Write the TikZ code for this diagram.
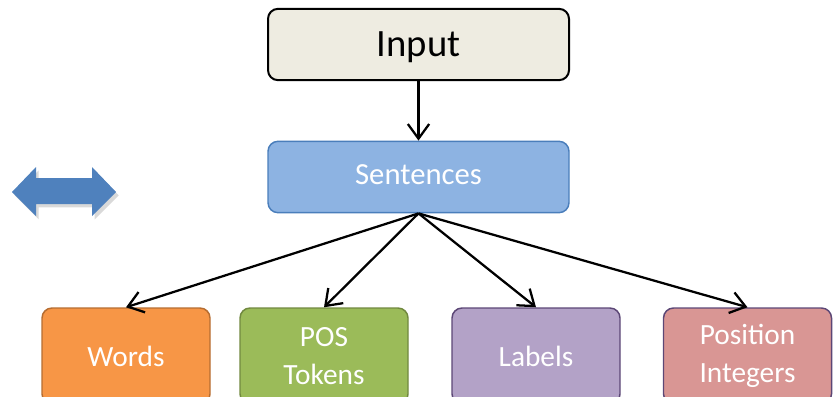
\documentclass[tikz,border=0pt]{standalone}
\usepackage{fontspec}
\setmainfont{Carlito}
\usetikzlibrary{arrows.meta,shadows}

\definecolor{inputfill}{HTML}{EEECE1}
\definecolor{sentfill}{HTML}{8DB3E2}
\definecolor{sentdraw}{HTML}{4A7EBB}
\definecolor{wordsfill}{HTML}{F79646}
\definecolor{wordsdraw}{HTML}{B66D31}
\definecolor{posfill}{HTML}{9BBB59}
\definecolor{posdraw}{HTML}{71893F}
\definecolor{labelsfill}{HTML}{B3A2C7}
\definecolor{labelsdraw}{HTML}{5C4776}
\definecolor{intfill}{HTML}{D99694}
\definecolor{arrowblue}{HTML}{4F81BD}

\begin{document}
\begin{tikzpicture}[x=0.75pt, y=-0.75pt,
    box/.style = {draw, rounded corners=7.5pt, line width=1.1pt, align=center, text=white,
                  minimum width=126pt, minimum height=72pt, font=\fontsize{22}{28.5}\selectfont},
    top/.style = {box, minimum width=225.75pt, minimum height=53.5pt},
    link/.style = {-{Straight Barb[length=11pt,width=16pt]}, line width=1.7pt}]

    \useasboundingbox (0,0) rectangle (837,396);
    \clip (0,0) rectangle (837,396);

    \node [top, fill=inputfill, line width=1.5pt, text=black, text depth=0pt,
           font=\fontsize{29}{34}\selectfont] (input) at (418.5,44.5) {Input};
    \node [top, fill=sentfill, draw=sentdraw, text height=1.2em,
           font=\fontsize{23}{28}\selectfont] (sent) at (418.5,177) {Sentences};

    \node [box, fill=wordsfill, draw=wordsdraw] (words) at (126,356) {Words};
    \node [box, fill=posfill, draw=posdraw] (pos) at (324,356) {POS\\Tokens};
    \node [box, fill=labelsfill, draw=labelsdraw] (labels) at (536,356) {Labels};
    \node [box, fill=intfill, draw=labelsdraw] (ints) at (747.5,356) {Position\\Integers};

    \draw[link] (input) to (sent);
    \draw[link] (sent.south) to (words.north);
    \draw[link] (sent.south) to (pos.north);
    \draw[link] (sent.south) to (labels.north);
    \draw[link] (sent.south) to (ints.north);

    % double arrow on the left
    \fill[arrowblue, drop shadow={opacity=0.3, shadow xshift=2pt, shadow yshift=-2.5pt}]
        (12,192) -- (36,167) -- (36,178) -- (92,178) -- (92,167) -- (116,192)
        -- (92,216) -- (92,204) -- (36,204) -- (36,216) -- cycle;

\end{tikzpicture}
\end{document}
